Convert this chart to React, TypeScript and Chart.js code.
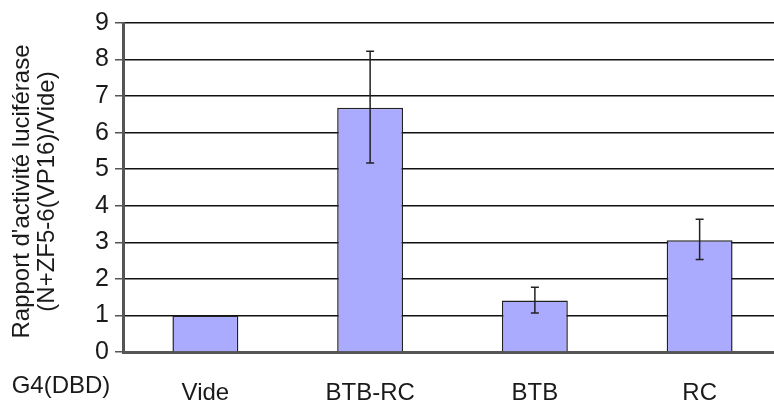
import React, { useEffect, useRef } from "react";
import { Chart, registerables } from "chart.js";

Chart.register(...registerables);

const categories = ["Vide", "BTB-RC", "BTB", "RC"];
const values = [1.0, 6.68, 1.41, 3.06];
const errLow: (number | null)[] = [null, 5.17, 1.07, 2.53];
const errHigh: (number | null)[] = [null, 8.23, 1.77, 3.63];
const yTicks = [0, 1, 2, 3, 4, 5, 6, 7, 8, 9];
const yTitleLines = ["Rapport d'activité luciférase", "(N+ZF5-6(VP16)/Vide)"];
const rowLabel = "G4(DBD)";

const FONT = "'Liberation Sans', Arial, sans-serif";

const errorBarPlugin = {
  id: "errorBars",
  afterDatasetsDraw(chart: any) {
    const meta = chart.getDatasetMeta(0);
    const y = chart.scales.y;
    const ctx = chart.ctx;
    ctx.save();
    ctx.strokeStyle = "#222";
    ctx.lineWidth = 1.5;
    meta.data.forEach((bar: any, i: number) => {
      const lo = errLow[i];
      const hi = errHigh[i];
      if (lo == null || hi == null) return;
      const x = bar.x;
      const yl = y.getPixelForValue(lo);
      const yh = y.getPixelForValue(hi);
      ctx.beginPath();
      ctx.moveTo(x, yl);
      ctx.lineTo(x, yh);
      ctx.moveTo(x - 4, yl);
      ctx.lineTo(x + 4, yl);
      ctx.moveTo(x - 4, yh);
      ctx.lineTo(x + 4, yh);
      ctx.stroke();
    });
    ctx.restore();
  },
};

const textPlugin = {
  id: "extraText",
  afterDraw(chart: any) {
    const ctx = chart.ctx;
    const area = chart.chartArea;
    ctx.save();
    ctx.fillStyle = "#1a1a1a";
    ctx.font = `24px ${FONT}`;
    ctx.textAlign = "center";
    ctx.textBaseline = "middle";
    const cy = (area.top + area.bottom) / 2 + 4;
    const xs = [22, 47];
    yTitleLines.forEach((line, i) => {
      ctx.save();
      ctx.translate(xs[i], cy);
      ctx.rotate(-Math.PI / 2);
      ctx.fillText(line, 0, 0);
      ctx.restore();
    });
    ctx.font = `24px ${FONT}`;
    ctx.fillText(rowLabel, 61, 386);
    ctx.restore();
  },
};

export default function App() {
  const ref = useRef<HTMLCanvasElement>(null);
  useEffect(() => {
    if (!ref.current) return;
    const chart = new Chart(ref.current, {
      type: "bar",
      data: {
        labels: categories,
        datasets: [
          {
            data: values,
            backgroundColor: "#aaaaff",
            borderColor: "#222",
            borderWidth: 1.5,
            barPercentage: 0.4,
            categoryPercentage: 1,
          },
        ],
      },
      options: {
        responsive: false,
        animation: false,
        devicePixelRatio: 1,
        layout: { padding: { top: 23, right: 0, left: 0, bottom: 0 } },
        plugins: {
          legend: { display: false },
          tooltip: { enabled: false },
        },
        scales: {
          x: {
            grid: { display: false },
            border: { display: true, color: "#555", width: 3 },
            ticks: {
              color: "#1a1a1a",
              font: { family: FONT, size: 24 },
              padding: 19,
              maxRotation: 0,
            },
            afterFit(scale: any) {
              scale.height = 49;
            },
          },
          y: {
            min: 0,
            max: 9,
            afterBuildTicks(scale: any) {
              scale.ticks = yTicks.map((v) => ({ value: v }));
            },
            grid: {
              color: "#111",
              lineWidth: 1.5,
              tickLength: 8,
              tickColor: "#555",
            },
            border: { display: true, color: "#555", width: 3 },
            ticks: {
              color: "#1a1a1a",
              font: { family: FONT, size: 25 },
              padding: 6,
            },
            afterFit(scale: any) {
              scale.width = 123;
            },
          },
        },
      },
      plugins: [errorBarPlugin, textPlugin],
    });
    return () => chart.destroy();
  }, []);
  return (
    <div
      style={{
        position: "fixed",
        left: 0,
        top: 0,
        width: 774,
        height: 401,
        overflow: "hidden",
        background: "#fff",
      }}
    >
      <canvas ref={ref} width={782} height={401} style={{ display: "block" }} />
    </div>
  );
}
